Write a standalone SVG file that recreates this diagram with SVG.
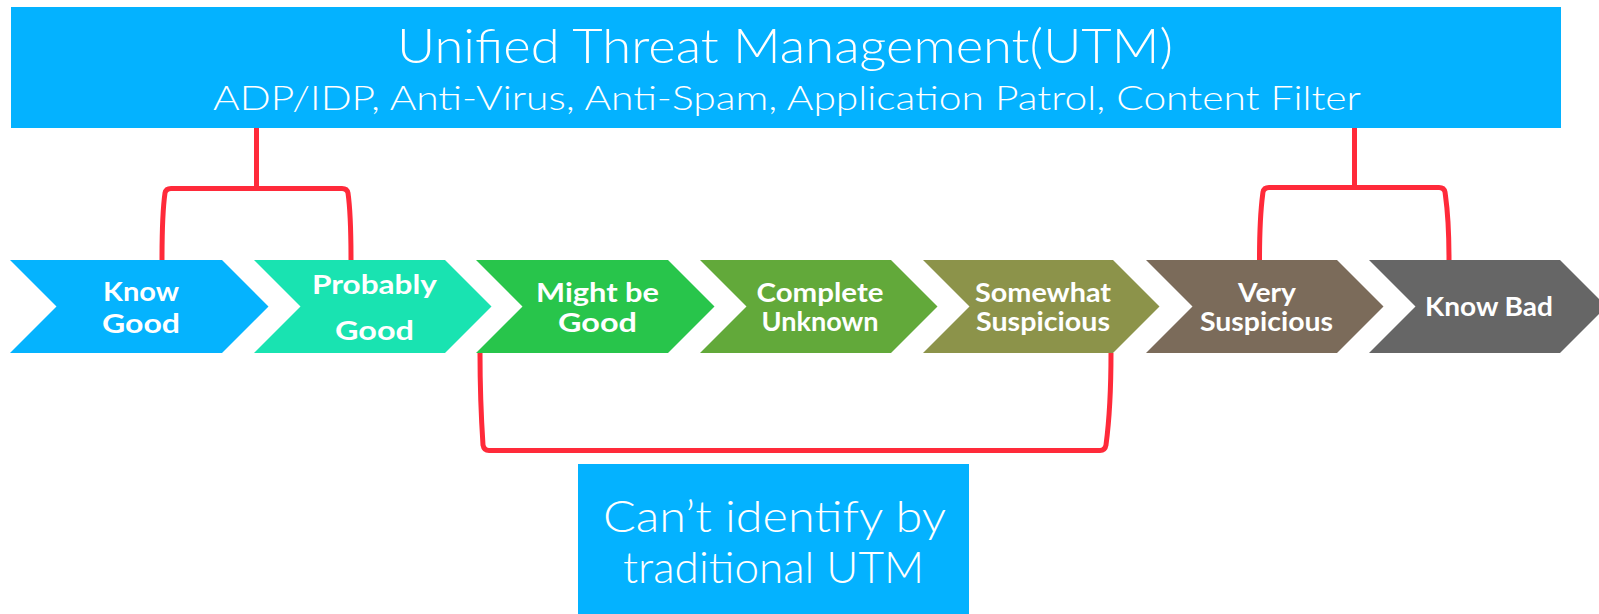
<svg xmlns="http://www.w3.org/2000/svg" width="1599" height="614" viewBox="0 0 1599 614">
  <style>
    .thin { font-family: Lato, "Open Sans", "Liberation Sans", sans-serif; font-weight: 300; fill: #ffffff; text-anchor: middle; }
    .lbl { font-family: Lato, "Liberation Sans", sans-serif; font-weight: 700; font-size: 27px; fill: #ffffff; text-anchor: middle; }
    .br { fill: none; stroke: #FF2A3A; stroke-width: 5; stroke-linejoin: round; }
  </style>
  <rect width="1599" height="614" fill="#ffffff"/>

  <g id="connectors">
    <path class="br" d="M256.5,128 V188.5"/>
    <path class="br" d="M162,260 C162,215 164,200 165,193 Q166,188.5 171,188.5 H342 Q347,188.5 348,193 C349,200 351,215 351,260"/>
    <path class="br" d="M1354.5,128 V187.5"/>
    <path class="br" d="M1259.5,260 C1259.5,215 1262,200 1263,192 Q1264,187.5 1269,187.5 H1439 Q1444,187.5 1445,192 C1446,200 1449,215 1449,260"/>
    <path class="br" d="M480,353 C480,400 482,430 483,445 Q484,450.5 489,450.5 H1100 Q1105,450.5 1106,445 C1108,430 1111,400 1111,353"/>
  </g>

  <g id="utm">
    <rect x="11" y="7" width="1550" height="121" fill="#04B2FF"/>
    <text class="thin" x="785" y="63" font-size="48" textLength="776" lengthAdjust="spacingAndGlyphs">Unified Threat Management(UTM)</text>
    <text class="thin" x="787" y="110" font-size="34" textLength="1148" lengthAdjust="spacingAndGlyphs">ADP/IDP, Anti-Virus, Anti-Spam, Application Patrol, Content Filter</text>
  </g>

  <g id="know-good">
    <polygon points="10,260 222,260 268.5,306.5 222,353 10,353 56.5,306.5" fill="#05B3FE"/>
    <text class="lbl" x="141" y="301" textLength="76" lengthAdjust="spacingAndGlyphs">Know</text>
    <text class="lbl" x="141" y="333" textLength="78" lengthAdjust="spacingAndGlyphs">Good</text>
  </g>
  <g id="probably-good">
    <polygon points="254,260 445,260 491.5,306.5 445,353 254,353 300.5,306.5" fill="#19E3B1"/>
    <text class="lbl" x="374.5" y="294" textLength="125" lengthAdjust="spacingAndGlyphs">Probably</text>
    <text class="lbl" x="374.5" y="340" textLength="79" lengthAdjust="spacingAndGlyphs">Good</text>
  </g>
  <g id="might-be-good">
    <polygon points="476,260 668,260 714.5,306.5 668,353 476,353 522.5,306.5" fill="#28C54B"/>
    <text class="lbl" x="597.5" y="301.5" textLength="123" lengthAdjust="spacingAndGlyphs">Might be</text>
    <text class="lbl" x="597.5" y="332" textLength="79" lengthAdjust="spacingAndGlyphs">Good</text>
  </g>
  <g id="complete-unknown">
    <polygon points="700,260 891,260 937.5,306.5 891,353 700,353 746.5,306.5" fill="#62A93A"/>
    <text class="lbl" x="820" y="302" textLength="127" lengthAdjust="spacingAndGlyphs">Complete</text>
    <text class="lbl" x="820" y="331" textLength="117" lengthAdjust="spacingAndGlyphs">Unknown</text>
  </g>
  <g id="somewhat-suspicious">
    <polygon points="923,260 1113,260 1159.5,306.5 1113,353 923,353 969.5,306.5" fill="#8C934A"/>
    <text class="lbl" x="1043" y="302" textLength="136" lengthAdjust="spacingAndGlyphs">Somewhat</text>
    <text class="lbl" x="1043" y="331" textLength="134" lengthAdjust="spacingAndGlyphs">Suspicious</text>
  </g>
  <g id="very-suspicious">
    <polygon points="1146,260 1337,260 1383.5,306.5 1337,353 1146,353 1192.5,306.5" fill="#7B6B5A"/>
    <text class="lbl" x="1267" y="302" textLength="58" lengthAdjust="spacingAndGlyphs">Very</text>
    <text class="lbl" x="1266.5" y="331" textLength="133" lengthAdjust="spacingAndGlyphs">Suspicious</text>
  </g>
  <g id="know-bad">
    <polygon points="1369,260 1560,260 1606.5,306.5 1560,353 1369,353 1415.5,306.5" fill="#666666"/>
    <text class="lbl" x="1489" y="316" textLength="128" lengthAdjust="spacingAndGlyphs">Know Bad</text>
  </g>

  <g id="cant-identify">
    <rect x="578" y="464" width="391" height="150" fill="#04B2FF"/>
    <text class="thin" x="774.5" y="532" font-size="43" textLength="343" lengthAdjust="spacingAndGlyphs">Can’t identify by</text>
    <text class="thin" x="773.5" y="583" font-size="43" textLength="301" lengthAdjust="spacingAndGlyphs">traditional UTM</text>
  </g>
</svg>
